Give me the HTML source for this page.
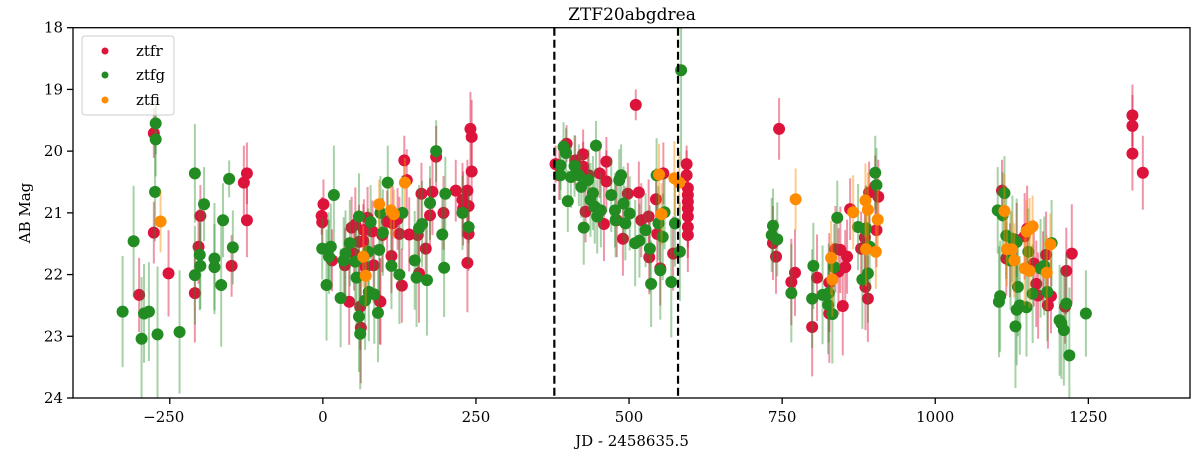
<!DOCTYPE html>
<html><head><meta charset="utf-8"><style>
html,body{margin:0;padding:0;background:#fff;}
svg{display:block;font-family:"DejaVu Serif","Liberation Serif",serif;}
</style></head><body>
<svg id="chart" width="1200" height="456"></svg>
<script>
const rJD=[-276,-276,-300,-252,-203,-200,-209,-149,-129,-124,-124,
-2,1,-1,15,43,47,53,61,62,59,66,67,73,81,83,70,93,94,97,112,105,114,122,125,129,133,137,141,155,157,161,168,175,179,185,197,217,228,229,236,238,238,236,241,243,243,36,51,
380,398,425,412,386,425,429,434,452,463,463,459,490,498,511,516,520,532,533,544,546,551,556,572,594,594,596,596,596,596,596,596,596,480,
745,735,740,765,771,799,807,827,827,837,842,845,849,853,856,861,879,885,886,890,892,904,907,902,
1109,1116,1146,1150,1161,1165,1168,1176,1181,1184,1189,1212,1214,1223,1122,1133,
1322,1322,1322,1339];
const rMag=[19.71,21.32,22.33,21.98,21.55,21.05,22.3,21.86,20.51,20.36,21.12,
21.05,20.86,21.15,21.77,22.44,21.24,21.19,22.52,22.86,21.47,21.46,21.28,21.08,21.3,21.85,21.88,22.43,22.44,21.36,21.7,21.14,21.17,21.1,21.34,22.18,20.15,20.47,21.35,21.36,21.98,20.69,21.58,21.04,20.66,20.09,21.0,20.64,20.79,20.93,20.64,20.89,21.34,21.81,19.64,19.77,20.33,21.85,21.66,
20.21,19.88,20.05,20.15,20.39,20.25,20.98,20.39,20.36,20.17,20.49,21.18,21.42,20.69,19.25,20.67,21.12,21.06,21.72,20.78,21.34,21.9,20.36,21.66,20.21,20.39,20.6,20.71,20.82,20.93,21.06,21.23,21.36,21.12,
19.64,21.49,21.71,22.12,21.97,22.85,22.05,22.13,22.63,21.59,21.95,21.6,22.51,21.88,21.71,20.94,21.58,21.4,22.2,22.39,20.67,21.28,20.74,20.57,
20.64,21.74,21.38,21.26,21.82,22.15,22.34,21.9,21.68,22.5,22.35,22.52,21.94,21.66,21.77,21.44,
19.42,19.59,20.04,20.35];
const rErr=[0.4,0.5,0.6,0.7,0.6,0.5,0.8,0.5,0.6,0.5,0.6,
0.3,0.4,0.4,0.5,0.7,0.5,0.6,0.7,0.9,0.6,0.6,0.5,0.5,0.5,0.6,0.6,0.7,0.7,0.6,0.6,0.5,0.6,0.5,0.6,0.6,0.4,0.5,0.6,0.6,0.8,0.5,0.6,0.6,0.7,0.5,0.6,0.5,0.6,0.6,0.5,0.6,0.6,0.8,0.6,0.6,0.5,0.6,0.6,
0.3,0.3,0.4,0.4,0.4,0.4,0.5,0.4,0.4,0.4,0.5,0.6,0.6,0.5,0.25,0.5,0.6,0.6,0.6,0.5,0.6,0.6,0.5,0.6,0.3,0.4,0.4,0.4,0.5,0.5,0.5,0.5,0.6,0.6,
0.5,0.6,0.6,0.7,0.7,0.8,0.7,0.8,0.8,0.7,0.7,0.7,0.8,0.6,0.6,0.5,0.6,0.6,0.7,0.7,0.5,0.6,0.6,0.5,
0.5,0.6,0.7,0.7,0.7,0.7,0.7,0.6,0.7,0.7,0.6,0.6,0.7,0.8,0.6,0.6,
0.5,0.5,0.6,0.6];
const gJD=[-327,-309,-296,-292,-284,-270,-273,-273,-274,-234,-209,-194,-201,-200,-209,-177,-177,-166,-163,-153,-147,
-1,6,9,13,10,18,29,34,37,44,53,55,59,59,61,69,74,75,78,84,90,92,94,98,106,112,125,130,150,153,157,162,170,175,185,195,198,200,228,238,
388,388,393,397,400,405,411,418,422,426,433,437,441,444,446,448,454,471,477,478,484,487,491,494,501,510,517,527,534,536,545,548,551,555,558,569,575,583,585,
735,733,742,765,799,801,816,826,825,832,835,840,874,881,887,890,893,902,904,886,
1102,1110,1113,1104,1106,1116,1123,1126,1133,1131,1133,1135,1138,1149,1152,1159,1172,1178,1183,1190,1203,1206,1210,1214,1219,1246];
const gMag=[22.6,21.46,23.04,22.63,22.6,22.97,19.55,19.81,20.66,22.93,20.36,20.86,21.68,21.86,22.01,21.74,21.88,22.17,21.12,20.45,21.56,
21.58,22.17,21.59,21.55,21.71,20.71,22.38,21.77,21.66,21.49,21.79,22.05,21.06,22.68,22.96,22.42,21.63,22.28,21.15,22.32,22.62,21.6,21.0,21.32,20.51,21.86,22.0,21.0,21.77,22.05,21.25,21.18,22.09,20.84,20.0,21.35,21.89,20.69,21.0,21.23,
20.23,20.39,19.93,20.03,20.81,20.42,20.24,20.39,20.58,21.24,20.47,20.79,20.68,20.9,19.91,21.06,20.96,20.71,20.96,21.12,20.47,20.39,20.85,21.17,21.01,21.49,21.45,21.28,21.58,22.15,20.39,21.17,21.93,21.39,20.99,22.12,21.17,21.63,18.69,
21.21,21.36,21.43,22.3,22.39,21.86,22.33,22.3,22.49,22.64,21.88,21.08,21.23,22.08,21.25,21.98,21.55,20.35,20.55,21.27,
20.96,21.04,20.68,22.44,22.35,21.37,21.77,21.42,21.47,22.84,22.57,22.2,22.5,22.53,21.63,22.31,21.9,21.86,22.28,21.49,22.74,22.79,22.9,22.47,23.31,22.63];
const gErr=[0.9,0.9,1.0,0.8,0.8,1.1,0.5,0.6,0.8,1.0,0.8,0.6,0.9,0.7,0.8,0.9,0.7,1.0,0.6,0.3,0.6,
0.5,0.9,0.6,0.7,0.6,0.8,0.8,0.7,0.7,0.7,0.8,0.8,0.7,0.9,0.9,0.8,0.7,0.8,0.6,0.8,0.8,0.7,0.6,0.7,0.6,0.7,0.8,0.6,0.8,0.8,0.7,0.7,0.9,0.6,0.5,0.6,0.8,0.6,0.6,0.6,
0.4,0.4,0.4,0.4,0.5,0.5,0.5,0.5,0.5,0.6,0.5,0.6,0.6,0.6,0.4,0.6,0.6,0.6,0.6,0.6,0.5,0.5,0.6,0.6,0.6,0.7,0.6,0.6,0.7,0.7,0.6,0.6,0.8,0.7,0.6,0.9,0.7,0.8,1.5,
0.6,0.6,0.6,0.8,0.8,0.7,0.8,0.8,0.8,0.8,0.7,0.6,0.7,0.8,0.7,0.8,0.7,0.6,0.6,0.7,
0.7,0.7,0.6,0.9,0.9,0.7,0.8,0.7,0.7,1.0,0.9,0.8,0.8,0.8,0.7,0.8,0.8,0.8,0.8,0.7,0.9,0.9,0.9,0.8,1.1,0.7];
const oJD=[-265,92,66,70,111,116,134,549,553,574,582,772,830,832,866,886,890,887,903,906,1113,1117,1125,1129,1149,1154,1159,1146,1154,1182,1188];
const oMag=[21.14,20.86,21.71,22.02,20.96,21.02,20.51,20.38,21.02,20.44,20.51,20.78,21.73,22.08,20.99,20.8,20.95,21.59,21.63,21.11,20.97,21.59,21.59,21.77,21.3,21.26,21.22,21.9,21.94,21.97,21.51];
const oErr=[0.5,0.4,0.5,0.5,0.4,0.4,0.4,0.5,0.5,0.6,0.5,0.5,0.6,0.6,0.6,0.6,0.6,0.6,0.6,0.5,0.6,0.6,0.6,0.6,0.5,0.5,0.5,0.6,0.6,0.6,0.5];
const xTicks=[-250,0,250,500,750,1000,1250];
const yTicks=[18,19,20,21,22,23,24];
const vLines=[378,580];

const L=73,R=1190,T=27.7,B=398;
const xMin=-408,xMax=1416,yMin=18,yMax=24;
function X(v){return L+(v-xMin)/(xMax-xMin)*(R-L);}
function Y(m){return T+(m-yMin)/(yMax-yMin)*(B-T);}
const NS="http://www.w3.org/2000/svg";
const svg=document.getElementById('chart');
function mk(t,a,p){const e=document.createElementNS(NS,t);for(const k in a)e.setAttribute(k,a[k]);(p||svg).appendChild(e);return e;}

const clip=mk('clipPath',{id:'pc'});mk('rect',{x:L,y:T,width:R-L,height:B-T},clip);
const plot=mk('g',{'clip-path':'url(#pc)'});



function series(jd,mag,err,col,barCol,op,name){
  const g=mk('g',{},plot);
  
  
  for(let i=0;i<jd.length;i++){
    const b=mk('line',{x1:X(jd[i]),x2:X(jd[i]),y1:Y(mag[i]-err[i]),y2:Y(mag[i]+err[i]),stroke:barCol,'stroke-width':2,'stroke-opacity':op},g);
    
    
  }
  for(let i=0;i<jd.length;i++){
    const c=mk('circle',{cx:X(jd[i]),cy:Y(mag[i]),r:6,fill:col},g);
    
    
  }
}
series(rJD,rMag,rErr,'#dc143c','#dc143c',0.45,'ztfr');
series(gJD,gMag,gErr,'#228b22','#228b22',0.4,'ztfg');
series(oJD,oMag,oErr,'#ff8c00','#ff8c00',0.45,'ztfi');

vLines.forEach(v=>{
  const l=mk('line',{x1:X(v),x2:X(v),y1:T,y2:B,stroke:'#000','stroke-width':2.2,'stroke-dasharray':'8,4'});
  
  
});

const frame=mk('rect',{x:L,y:T,width:R-L,height:B-T,fill:'none',stroke:'#000','stroke-width':1.3});



xTicks.forEach(v=>{
  const t=mk('line',{x1:X(v),x2:X(v),y1:B,y2:B+6,stroke:'#000','stroke-width':1.3});
  
  
  const s=mk('text',{x:X(v)-(v<0?6:0),y:B+24,'text-anchor':'middle','font-size':15});
  s.textContent=v<0?'\u2212'+Math.abs(v):String(v);
  
  
});
yTicks.forEach(m=>{
  const t=mk('line',{x1:L-6,x2:L,y1:Y(m),y2:Y(m),stroke:'#000','stroke-width':1.3});
  
  
  const s=mk('text',{x:L-10,y:Y(m)+5,'text-anchor':'end','font-size':15});
  s.textContent=String(m);
  
  
});
</script>
<script>
(function(){
const NS="http://www.w3.org/2000/svg";const svg=document.getElementById('chart');
function mk(t,a,p){const e=document.createElementNS(NS,t);for(const k in a)e.setAttribute(k,a[k]);(p||svg).appendChild(e);return e;}
const ti=mk('text',{x:632,y:20,'text-anchor':'middle','font-size':17});ti.textContent='ZTF20abgdrea';


const xl=mk('text',{x:632,y:446,'text-anchor':'middle','font-size':15});xl.textContent='JD - 2458635.5';


const yl=mk('text',{x:0,y:0,'text-anchor':'middle','font-size':15,transform:'translate(30,213) rotate(-90)'});yl.textContent='AB Mag';


const lg=mk('g',{});


mk('rect',{x:82,y:36,width:92,height:79,rx:3,fill:'#fff','fill-opacity':0.8,stroke:'#ccc','stroke-width':1},lg);
[['ztfr','#dc143c',51],['ztfg','#228b22',75],['ztfi','#ff8c00',100]].forEach(e=>{
  const c=mk('circle',{cx:105,cy:e[2],r:3.5,fill:e[1]},lg);
  
  
  const t=mk('text',{x:136,y:e[2]+5,'font-size':15},lg);t.textContent=e[0];
  
  
});
})();
</script>
</body></html>
